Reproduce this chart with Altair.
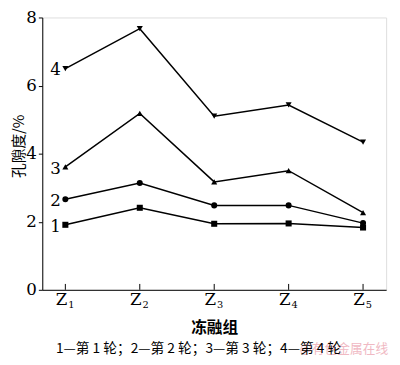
import altair as alt
import pandas as pd

groups = ["Z1", "Z2", "Z3", "Z4", "Z5"]
group_z = ["Z", "Z", "Z", "Z", "Z"]
group_sub = ["1", "2", "3", "4", "5"]

series_names = ["1", "2", "3", "4"]
series_shapes = ["square", "circle", "triangle-up", "triangle-down"]

round1 = [1.91, 2.41, 1.94, 1.95, 1.83]
round2 = [2.66, 3.14, 2.48, 2.48, 1.96]
round3 = [3.61, 5.18, 3.17, 3.50, 2.27]
round4 = [6.50, 7.67, 5.10, 5.43, 4.34]

caption = "1—第 1 轮；2—第 2 轮；3—第 3 轮；4—第 4 轮"
watermark = "@有色金属在线"

all_rounds = [round1, round2, round3, round4]
rows = []
for name, vals in zip(series_names, all_rounds):
    for g, v in zip(groups, vals):
        rows.append({"group": g, "value": v, "series": name})
df = pd.DataFrame(rows)

lab_df = pd.DataFrame({
    "group": [groups[0]] * len(series_names),
    "value": [r[0] for r in all_rounds],
    "label": series_names,
})
xlab_df = pd.DataFrame({"group": groups, "z": group_z, "sub": group_sub})

TOP = 6
W, H = 351, 278
SERIF = "DejaVu Serif"
CJK = "Noto Sans CJK SC"

x = alt.X(
    "group:N",
    scale=alt.Scale(type="point", padding=0.31, domain=groups),
    axis=alt.Axis(
        labels=False, ticks=False, grid=False,
        domainColor="black", domainWidth=1,
        title="冻融组", titleFont=CJK, titleFontSize=16, titleFontWeight="bold",
        titleColor="black", titleX=W / 2, titleY=39,
        titleAlign="center", titleBaseline="middle",
    ),
)
y = alt.Y(
    "value:Q",
    scale=alt.Scale(domain=[0, 8], nice=False, zero=True),
    axis=alt.Axis(
        values=[0, 2, 4, 6, 8], grid=False,
        labelFont=SERIF, labelFontSize=17, labelColor="black", labelPadding=2,
        tickSize=4, tickColor="black", domainColor="black", domainWidth=1,
        title="孔隙度/%", titleFont=CJK, titleFontSize=15, titleFontWeight="normal",
        titleColor="black", titleX=-24, titleY=145 - 8 - TOP, titleAngle=-90,
        titleAlign="center", titleBaseline="middle",
    ),
)

base = alt.Chart(df)

lines = base.mark_line(color="black", strokeWidth=1.5).encode(
    x=x, y=y, detail="series:N"
)
points = base.mark_point(filled=True, color="black", opacity=1, size=38).encode(
    x=x, y=y,
    shape=alt.Shape("series:N", scale=alt.Scale(domain=series_names, range=series_shapes), legend=None),
)
labels = alt.Chart(lab_df).mark_text(
    font=SERIF, fontSize=17, color="black", dx=-10, dy=2, baseline="middle", align="center"
).encode(x=x, y=y, text="label:N")

xticks = alt.Chart(xlab_df).mark_rule(color="black", strokeWidth=1).encode(
    x=x, y=alt.value(H), y2=alt.value(H - 6)
)
zlabels = alt.Chart(xlab_df).mark_text(
    font=SERIF, fontSize=17, color="black", dx=-4, baseline="middle", align="center"
).encode(x=x, y=alt.value(H + 10), text="z:N")
zsubs = alt.Chart(xlab_df).mark_text(
    font=SERIF, fontSize=10, color="black", dx=6, baseline="middle", align="center"
).encode(x=x, y=alt.value(H + 16), text="sub:N")

CAP_Y = 353 - 8 - TOP
wm = alt.Chart(pd.DataFrame({"t": [watermark]})).mark_text(
    font=CJK, fontSize=13, color="#f0b9c3", align="center", baseline="middle"
).encode(x=alt.value(308), y=alt.value(CAP_Y), text="t:N")
cap = alt.Chart(pd.DataFrame({"t": [caption]})).mark_text(
    font=CJK, fontSize=14, color="black", align="center", baseline="middle"
).encode(x=alt.value(159.5), y=alt.value(CAP_Y), text="t:N")

chart = alt.layer(lines, points, labels, xticks, zlabels, zsubs, wm, cap).properties(
    width=W, height=H,
    autosize=alt.AutoSizeParams(type="none"),
    padding={"left": 35, "top": TOP, "right": 6, "bottom": 70},
).configure_view(stroke="black", strokeWidth=1).configure(background="white")

chart.save("out.html", embed_options={"renderer": "svg", "actions": False})
